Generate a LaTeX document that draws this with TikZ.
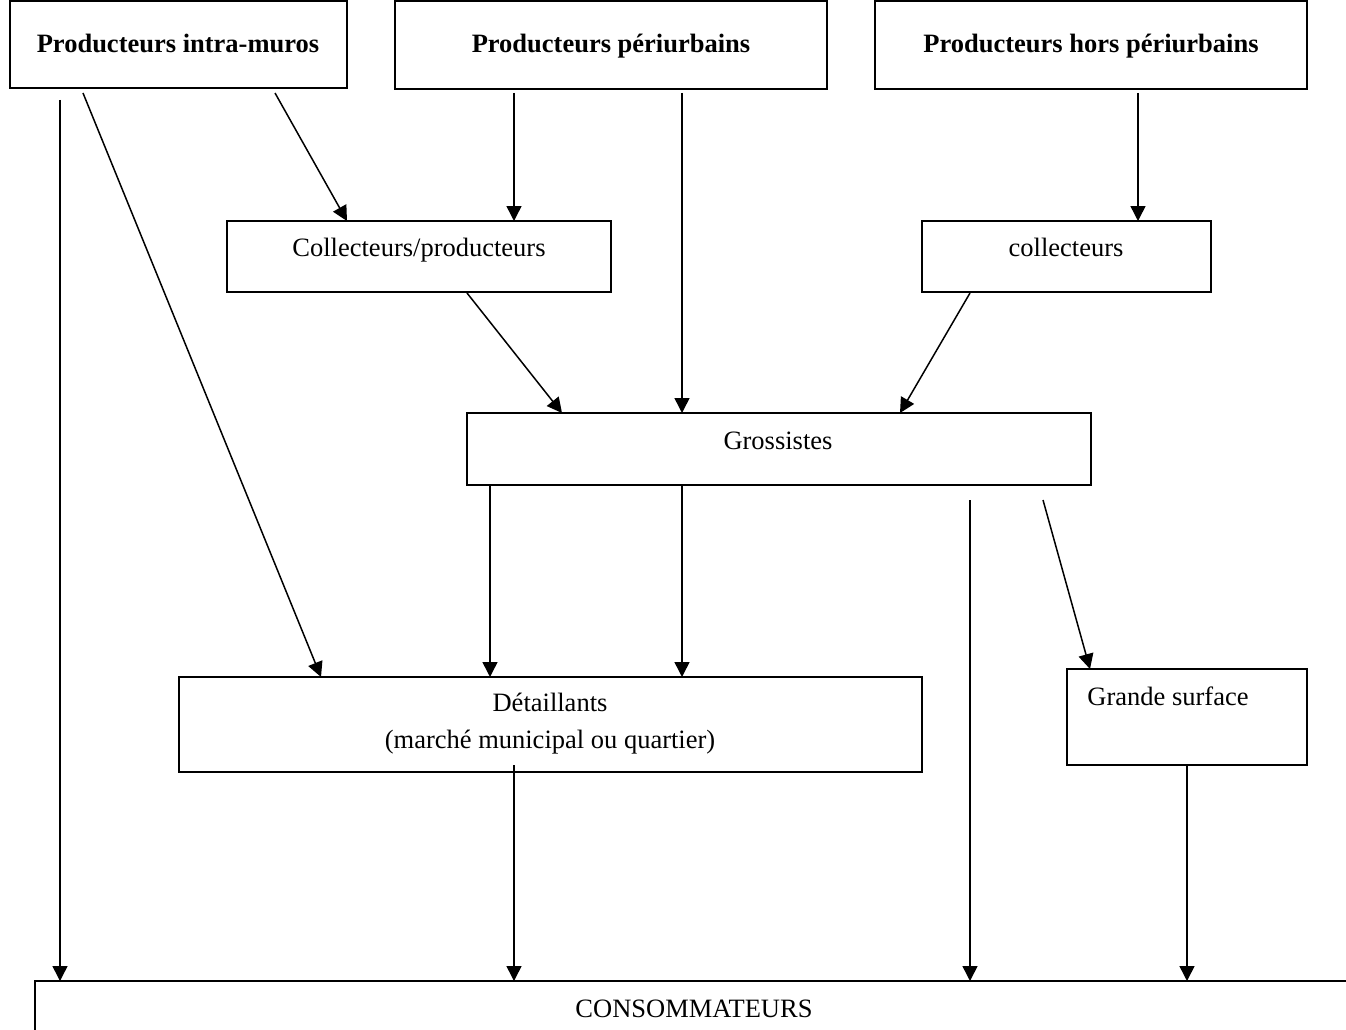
\documentclass[tikz,border=0pt]{standalone}
\usepackage{fontspec}
\setmainfont{Liberation Serif}
\usetikzlibrary{arrows.meta}
\begin{document}
\begin{tikzpicture}[x=1pt,y=-1pt,
  box/.style={draw=black,line width=1.8pt,rectangle,inner sep=0pt,outer sep=0pt,anchor=north west},
  lbl/.style={inner sep=0pt,text height=0.68em,text depth=0pt,yshift=-5pt,font=\fontsize{26.5}{32}\selectfont},
  blbl/.style={lbl,font=\fontsize{26.5}{32}\selectfont\bfseries},
  arr/.style={line width=1.5pt,-{Triangle[width=15pt,length=15pt]}}]
\useasboundingbox (0,0) rectangle (1346,1030);
% boxes
\node[box,minimum width=337pt,minimum height=87pt] (intra) at (10,1) {};
\node[box,minimum width=432pt,minimum height=88pt] (peri) at (395,1) {};
\node[box,minimum width=432pt,minimum height=88pt] (hors) at (875,1) {};
\node[box,minimum width=384pt,minimum height=71pt] (colp) at (227,221) {};
\node[box,minimum width=289pt,minimum height=71pt] (col) at (922,221) {};
\node[box,minimum width=624pt,minimum height=72pt] (gros) at (467,413) {};
\node[box,minimum width=743pt,minimum height=95pt] (det) at (179,677) {};
\node[box,minimum width=240pt,minimum height=96pt] (gs) at (1067,669) {};
\node[box,minimum width=1340pt,minimum height=80pt] (cons) at (35,981) {};
% texts
\node[blbl] (tintra) at (178,44) {Producteurs intra-muros};
\node[blbl] (tperi) at (611,44) {Producteurs périurbains};
\node[blbl] (thors) at (1091,44) {Producteurs hors périurbains};
\node[lbl] (tcolp) at (419,248) {Collecteurs/producteurs};
\node[lbl] (tcol) at (1066,248) {collecteurs};
\node[lbl] (tgros) at (778,441) {Grossistes};
\node[lbl] (tdet1) at (550,703) {Détaillants};
\node[lbl] (tdet2) at (550,740) {(marché municipal ou quartier)};
\node[lbl] (tgs) at (1168,697) {Grande surface};
\node[lbl] (tcons) at (694,1009) {CONSOMMATEURS};
% connector end points
\coordinate (a1) at (60,100);
\coordinate (a2) at (83,93);
\coordinate (a3) at (275,93);
\coordinate (a4) at (514,93);
\coordinate (a5) at (682,93);
\coordinate (a6) at (1138,93);
\coordinate (a7) at (467,293);
\coordinate (a8) at (970,293);
\coordinate (a9) at (490,485);
\coordinate (a10) at (682,485);
\coordinate (a11) at (970,500);
\coordinate (a12) at (1043,500);
\coordinate (a13) at (514,765);
\coordinate (a14) at (1187,765);
\coordinate (e2) at (321,677);
\coordinate (e3) at (347,221);
\coordinate (e7) at (562,413);
\coordinate (e8) at (900,413);
\coordinate (e12) at (1090,669);
% connectors
\draw[arr] (a1) -- (a1 |- cons.north);
\draw[arr] (a2) -- (e2);
\draw[arr] (a3) -- (e3);
\draw[arr] (a4) -- (a4 |- colp.north);
\draw[arr] (a5) -- (a5 |- gros.north);
\draw[arr] (a6) -- (a6 |- col.north);
\draw[arr] (a7) -- (e7);
\draw[arr] (a8) -- (e8);
\draw[arr] (a9) -- (a9 |- det.north);
\draw[arr] (a10) -- (a10 |- det.north);
\draw[arr] (a11) -- (a11 |- cons.north);
\draw[arr] (a12) -- (e12);
\draw[arr] (a13) -- (a13 |- cons.north);
\draw[arr] (a14) -- (a14 |- cons.north);
\end{tikzpicture}
\end{document}
